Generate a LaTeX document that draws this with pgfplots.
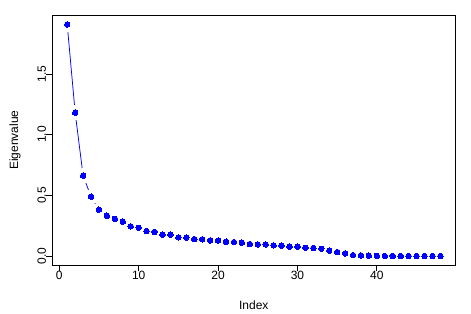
\documentclass[border=0pt]{standalone}
\usepackage{pgfplots}
\usepackage{pgfplotstable}
\pgfplotsset{compat=1.18}
\usepackage{fontspec}
\setmainfont{Liberation Sans}
\definecolor{rblue}{RGB}{0,0,255}
\pgfplotstableread{
idx val
1 1.907
2 1.181
3 0.662
4 0.489
5 0.382
6 0.332
7 0.307
8 0.283
9 0.245
10 0.233
11 0.206
12 0.198
13 0.176
14 0.176
15 0.154
16 0.152
17 0.140
18 0.138
19 0.129
20 0.127
21 0.118
22 0.115
23 0.110
24 0.099
25 0.096
26 0.096
27 0.088
28 0.085
29 0.077
30 0.077
31 0.068
32 0.066
33 0.060
34 0.044
35 0.033
36 0.022
37 0.008
38 0.005
39 0.003
40 0.001
41 0.0005
42 0.0004
43 0.0003
44 0.0002
45 0.0002
46 0.0001
47 0.0001
48 0.0000
}\eigdata
\begin{document}
\fontsize{12bp}{14bp}\selectfont
\begin{tikzpicture}
\useasboundingbox (0,0) rectangle (471bp,314bp);
\begin{axis}[
  at={(52.3bp,48.7bp)}, anchor=south west,
  scale only axis, width=403bp, height=250bp,
  xmin=-0.88, xmax=49.88, ymin=-0.0763, ymax=1.983,
  xtick={0,10,20,30,40}, ytick={0,0.5,1,1.5},
  yticklabel style={/pgf/number format/fixed,/pgf/number format/fixed zerofill,/pgf/number format/precision=1, rotate=90, anchor=south, inner sep=0pt},
  xticklabel style={inner sep=0pt, anchor=north},
  /pgf/number format/assume math mode=true,
  xtick pos=bottom, ytick pos=left,
  tick align=outside, major tick length=6bp,
  every tick/.style={black, line width=0.75bp},
  axis line style={line width=0.75bp, black},
  xlabel={Index}, ylabel={Eigenvalue},
  xlabel style={at={(axis description cs:0.5,-0.1588)}, anchor=center, inner sep=0pt},
  ylabel style={at={(axis description cs:-0.0926,0.5)}, anchor=center, inner sep=0pt},
  tick label style={font=\fontsize{12bp}{14bp}\selectfont},
  label style={font=\fontsize{12bp}{14bp}\selectfont},
  clip=false,
]
\addplot[rblue, line width=0.75bp, no markers] table[x=idx,y=val]{\eigdata};
\addplot[white, only marks, mark=*, mark size=7bp, mark options={fill=white, draw=white, line width=0pt}] table[x=idx,y=val]{\eigdata};
\addplot[rblue, only marks, mark=*, mark size=2.75bp, mark options={fill=rblue, draw=rblue, line width=0pt}] table[x=idx,y=val]{\eigdata};
\end{axis}
\end{tikzpicture}
\end{document}
